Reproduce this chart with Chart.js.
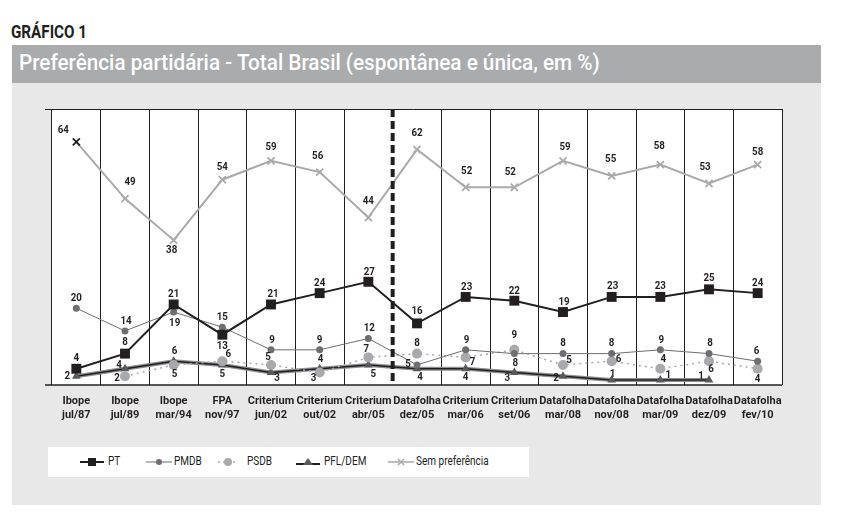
<!DOCTYPE html>
<html>
<head>
<meta charset="utf-8">
<script src="https://cdn.jsdelivr.net/npm/chart.js@4/dist/chart.umd.min.js"></script>
<style>
    body { margin: 0; background: #fff; width: 859px; height: 513px; position: relative; overflow: hidden;
           font-family: Roboto, 'DejaVu Sans Condensed', sans-serif; }
    .narrow { position: absolute; white-space: nowrap; transform-origin: 0 50%; }
    #kicker { left: 11px; top: 20px; font-size: 19px; font-weight: bold; color: #231f20; transform: scaleX(0.8); }
    #titlebar { position: absolute; left: 12px; top: 45px; width: 809px; height: 38px; background: #a9abad; }
    #title { left: 19px; top: 49px; font-size: 22.5px; font-weight: 500; color: #fff; transform: scaleX(0.92); }
    #panel { position: absolute; left: 12px; top: 83px; width: 809px; height: 422px; background: #e8e8e8; }
    #chart-wrap { position: absolute; left: 12px; top: 83px; width: 809px; height: 352px; }
    #legend { position: absolute; left: 48px; top: 447px; width: 481px; height: 30px; background: #fff; }
    .mark { position: absolute; top: 10px; }
    .ltext { top: 6px; font-size: 13px; color: #231f20; transform: scaleX(0.77); }
</style>
</head>
<body>
<div id="kicker" class="narrow">GRÁFICO 1</div>
<div id="titlebar"></div>
<div id="title" class="narrow">Preferência partidária - Total Brasil (espontânea e única, em %)</div>
<div id="panel"></div>
<div id="chart-wrap"><canvas id="chart"></canvas></div>
<div id="legend">
    <svg class="mark" style="left:32px" width="24" height="10"><line x1="0" y1="5" x2="24" y2="5" stroke="#231f20" stroke-width="2"/><rect x="8" y="1" width="8" height="8" fill="#231f20"/></svg>
    <div class="narrow ltext" style="left:60px">PT</div>
    <svg class="mark" style="left:98px" width="26" height="10"><line x1="0" y1="5" x2="26" y2="5" stroke="#6d6e71" stroke-width="1"/><circle cx="13" cy="5" r="3" fill="#6d6e71"/></svg>
    <div class="narrow ltext" style="left:126px">PMDB</div>
    <svg class="mark" style="left:170px" width="20" height="10"><line x1="0" y1="5" x2="20" y2="5" stroke="#a7a9ac" stroke-width="1.5" stroke-dasharray="2,3"/><circle cx="10" cy="5" r="4" fill="#a7a9ac"/></svg>
    <div class="narrow ltext" style="left:199px">PSDB</div>
    <svg class="mark" style="left:248px" width="24" height="10"><line x1="0" y1="7" x2="24" y2="7" stroke="#231f20" stroke-width="2"/><polygon points="12,1 17,8 7,8" fill="#58595b"/></svg>
    <div class="narrow ltext" style="left:276px">PFL/DEM</div>
    <svg class="mark" style="left:340px" width="26" height="10"><line x1="0" y1="5" x2="26" y2="5" stroke="#a7a9ac" stroke-width="1.5"/><path d="M10 2 L16 8 M16 2 L10 8" stroke="#a7a9ac" stroke-width="1.5"/></svg>
    <div class="narrow ltext" style="left:368px">Sem preferência</div>
</div>
<script>
    const FONT = "Roboto, 'DejaVu Sans Condensed', sans-serif";

    // Data
    const categories = [
        ['Ibope', 'jul/87'], ['Ibope', 'jul/89'], ['Ibope', 'mar/94'], ['FPA', 'nov/97'],
        ['Criterium', 'jun/02'], ['Criterium', 'out/02'], ['Criterium', 'abr/05'], ['Datafolha', 'dez/05'],
        ['Criterium', 'mar/06'], ['Criterium', 'set/06'], ['Datafolha', 'mar/08'], ['Datafolha', 'nov/08'],
        ['Datafolha', 'mar/09'], ['Datafolha', 'dez/09'], ['Datafolha', 'fev/10']
    ];
    const pt = [4, 8, 21, 13, 21, 24, 27, 16, 23, 22, 19, 23, 23, 25, 24];
    const pmdb = [20, 14, 19, 15, 9, 9, 12, 5, 9, 8, 8, 8, 9, 8, 6];
    const psdb = [null, 2, 5, 6, 5, 3, 7, 8, 7, 9, 5, 6, 4, 6, 4];
    const pflDem = [2, 4, 6, 5, 3, 4, 5, 4, 4, 3, 2, 1, 1, 1, null];
    const semPreferencia = [64, 49, 38, 54, 59, 56, 44, 62, 52, 52, 59, 55, 58, 53, 58];

    // Label placement (dx, dy from the point)
    const ptLabelPos = [[0,-11],[0,-11],[0,-10],[0,11],[2,-10],[0,-10],[1,-10],[0,-12],[1,-10],[0,-10],[1,-10],[1,-11],[0,-11],[0,-11],[0,-10]];
    const pmdbLabelPos = [[0,-10],[1,-10],[1,11],[0,-10],[1,-10],[0,-10],[1,-10],[-9,-1],[1,-10],[1,10],[0,-10],[0,-10],[1,-10],[1,-10],[-1,-10]];
    const psdbLabelPos = [null,[-8,2],[1,9],[6,-7],[-3,-8],[-6,6],[-2,-8],[0,-10],[7,5],[0,-15],[6,-5],[7,-2],[3,-10],[2,8],[0,10]];
    const pflLabelPos = [[-9,0],[-6,-4],[1,-10],[0,9],[6,6],[1,-10],[5,9],[3,8],[0,8],[-7,6],[-7,2],[1,-6],[8,-5],[-8,-4],null];
    const semLabelPos = [[-13,-12],[5,-16],[-2,10],[0,-13],[0,-14],[-2,-16],[0,-16],[0,-16],[1,-16],[-4,-15],[2,-14],[-1,-17],[-1,-18],[-4,-16],[0,-12]];

    // Plot background, frame lines and the dashed divider
    const framePlugin = {
        id: 'frame',
        beforeDraw(chart) {
            const { ctx, chartArea: a } = chart;
            ctx.save();
            ctx.fillStyle = '#fff';
            ctx.fillRect(a.left, a.top, a.right - a.left, a.bottom - a.top);
            ctx.restore();
        },
        afterDraw(chart) {
            const { ctx, chartArea: a } = chart;
            const x = chart.scales.x;
            ctx.save();
            ctx.strokeStyle = '#231f20';
            ctx.lineWidth = 1;
            ctx.beginPath();
            ctx.moveTo(a.left - 7, a.top + 0.5);
            ctx.lineTo(a.right, a.top + 0.5);
            ctx.stroke();
            ctx.lineWidth = 1.5;
            ctx.beginPath();
            ctx.moveTo(a.left - 7, a.bottom);
            ctx.lineTo(a.right, a.bottom);
            ctx.stroke();
            const dx = (x.getPixelForValue(6) + x.getPixelForValue(7)) / 2;
            ctx.lineWidth = 4;
            ctx.setLineDash([8, 4]);
            ctx.beginPath();
            ctx.moveTo(dx, a.top);
            ctx.lineTo(dx, a.bottom);
            ctx.stroke();
            ctx.restore();
        }
    };

    // Value labels next to each point, drawn slightly condensed
    const labelPlugin = {
        id: 'valueLabels',
        afterDatasetsDraw(chart) {
            const ctx = chart.ctx;
            chart.data.datasets.forEach((ds, di) => {
                if (!ds.labelPos) return;
                const meta = chart.getDatasetMeta(di);
                ds.data.forEach((v, i) => {
                    if (v === null) return;
                    const p = meta.data[i];
                    const off = ds.labelPos[i] || [0, -10];
                    ctx.save();
                    ctx.translate(p.x + off[0], p.y + off[1]);
                    ctx.scale(0.85, 1);
                    ctx.font = 'bold 11.5px ' + FONT;
                    ctx.fillStyle = '#231f20';
                    ctx.textAlign = 'center';
                    ctx.textBaseline = 'middle';
                    ctx.fillText(String(v), 0, 0);
                    ctx.restore();
                });
            });
        }
    };

    new Chart(document.getElementById('chart'), {
        type: 'line',
        data: {
            labels: categories,
            datasets: [
                {
                    label: 'PT', data: pt, labelPos: ptLabelPos,
                    borderColor: '#231f20', borderWidth: 2,
                    pointStyle: 'rect', pointRadius: 7, pointBackgroundColor: '#231f20', pointBorderWidth: 0
                },
                {
                    label: 'PMDB', data: pmdb, labelPos: pmdbLabelPos,
                    borderColor: '#6d6e71', borderWidth: 1,
                    pointStyle: 'circle', pointRadius: 3.5, pointBackgroundColor: '#6d6e71', pointBorderWidth: 0
                },
                {
                    label: 'PSDB', data: psdb, labelPos: psdbLabelPos,
                    borderColor: '#a7a9ac', borderWidth: 1.5, borderDash: [2, 4],
                    pointStyle: 'circle', pointRadius: 5, pointBackgroundColor: '#a7a9ac', pointBorderWidth: 0
                },
                {
                    label: 'PFL/DEM', data: pflDem, labelPos: pflLabelPos,
                    borderColor: '#231f20', borderWidth: 1.5,
                    pointStyle: 'triangle', pointRadius: 5, pointBackgroundColor: '#58595b', pointBorderWidth: 0
                },
                {
                    label: 'Sem preferência', data: semPreferencia, labelPos: semLabelPos,
                    borderColor: '#a7a9ac', borderWidth: 2,
                    pointStyle: 'crossRot', pointRadius: 5, pointBorderWidth: 1.8,
                    pointBorderColor: semPreferencia.map((v, i) => i === 0 ? '#231f20' : '#a7a9ac')
                },
                {
                    // gray halo under the PFL/DEM line
                    label: '', data: pflDem,
                    borderColor: '#8d8f92', borderWidth: 4, pointRadius: 0
                }
            ]
        },
        options: {
            responsive: true,
            maintainAspectRatio: false,
            animation: false,
            layout: { padding: { top: 26, left: 40, right: 39, bottom: 0 } },
            scales: {
                x: {
                    offset: true,
                    afterFit: (scale) => { scale.height = 50; },
                    grid: {
                        offset: true,
                        drawTicks: false,
                        color: (c) => c.index === 7 ? 'rgba(0,0,0,0)' : '#231f20',
                        lineWidth: 1
                    },
                    border: { display: false },
                    ticks: {
                        autoSkip: false, maxRotation: 0, padding: 10,
                        color: '#231f20',
                        font: { family: FONT, size: 11, weight: 'bold', lineHeight: 1.2 }
                    }
                },
                y: {
                    display: false,
                    min: -0.3,
                    max: 72.7
                }
            },
            plugins: {
                legend: { display: false },
                tooltip: { enabled: false }
            }
        },
        plugins: [framePlugin, labelPlugin]
    });
</script>
</body>
</html>
